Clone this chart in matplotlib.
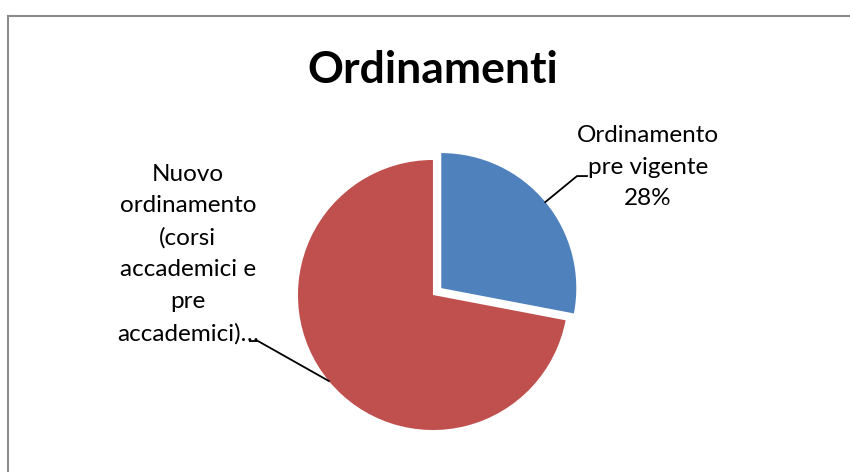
import matplotlib.pyplot as plt
import numpy as np

labels = ['Ordinamento\npre vigente', 'Nuovo\nordinamento\n(corsi\naccademici e\npre\naccademici)…']
shares = [28, 72]
colors = ['#4F81BD', '#C0504D']

plt.rcParams['font.family'] = ['Lato', 'DejaVu Sans']

fig = plt.figure(figsize=(8.5, 4.72), dpi=100)
ax = fig.add_axes([0, 0, 1, 1])

explode = [0.08, 0]
wedges, _ = ax.pie(shares, colors=colors, startangle=90, counterclock=False,
                   explode=explode, radius=1, frame=True)
ax.set_xlim(-3.207, 3.089)
ax.set_ylim(-1.311, 2.185)
ax.set_aspect('auto')
ax.axis('off')

# leader lines from the middle of each wedge's arc
for w, elbow, end in zip(wedges,
                         [(1.067, 0.881), (-1.296, -0.341)],
                         [(1.141, 0.881), (-1.356, -0.341)]):
    mid = np.deg2rad((w.theta1 + w.theta2) / 2)
    cx, cy = w.center
    px, py = cx + np.cos(mid), cy + np.sin(mid)
    ax.plot([px, elbow[0], end[0]], [py, elbow[1], end[1]], color='black', lw=1.3,
            clip_on=False)

ax.text(1.593, 0.948, labels[0] + '\n' + '%d%%' % shares[0], ha='center', va='center',
        fontsize=17.5, linespacing=1.62)
ax.text(-1.815, 0.304, labels[1], ha='center', va='center', fontsize=17.5, linespacing=1.62)

fig.text(433 / 850, 1 - 70 / 472, 'Ordinamenti', ha='center', va='center',
         fontsize=32, fontweight='bold')

# chart border (right and bottom sides fall outside the picture)
fig.add_artist(plt.Line2D([8 / 850, 8 / 850], [0, 1 - 16 / 472], color='#8c8c8c', lw=1.5))
fig.add_artist(plt.Line2D([8 / 850, 1], [1 - 16 / 472, 1 - 16 / 472], color='#8c8c8c', lw=1.5))

fig.savefig('out.png', dpi=100)
